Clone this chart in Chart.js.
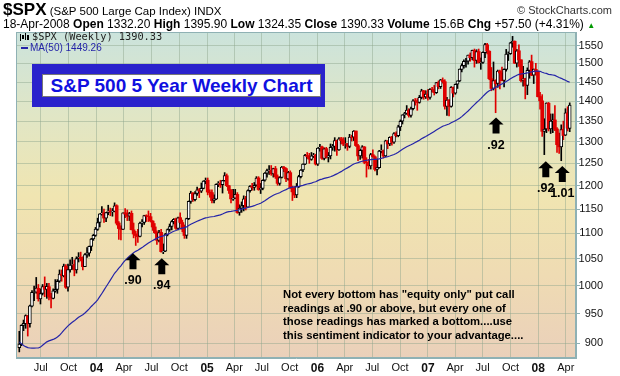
<!DOCTYPE html>
<html>
<head>
<meta charset="utf-8">
<script src="https://cdn.jsdelivr.net/npm/chart.js@4.4.1/dist/chart.umd.min.js"></script>
<style>
  body { margin: 0; background: #fff; }
  #wrap { position: relative; width: 620px; height: 376px; font-family: "Liberation Sans", Arial, sans-serif; color: #000; }
  #wrap canvas { position: absolute; left: 0; top: 0; }
  .abs { position: absolute; white-space: nowrap; }
  #sym { left: 3px; top: 0px; font-size: 11.5px; line-height: 20px; }
  #sym b { font-size: 17px; }
  #copy { right: 8px; top: 4px; font-size: 11px; color: #333; }
  #quote { left: 3px; top: 17px; font-size: 12px; line-height: 14px; }
  #quote .up { color: #090; font-size: 8px; }
  #leg1 { left: 32px; top: 30px; font-family: "DejaVu Sans Mono", monospace; font-size: 10.3px; line-height: 12px; color: #222; }
  #leg2 { left: 30px; top: 42px; font-size: 10px; line-height: 12px; color: #2424a8; }
  #titlebox { left: 32px; top: 64px; width: 293px; height: 43px; background: #2a22cc; }
  #titlebox div { position: absolute; left: 10px; top: 10px; width: 277px; height: 21px; background: #fff; border: 1px solid #777;
    color: #1010e0; font-weight: bold; font-size: 19px; line-height: 21px; text-align: center; }
  #note { left: 283px; top: 288px; font-weight: bold; font-size: 11.3px; line-height: 13.7px; }
</style>
</head>
<body>
<div id="wrap">
  <canvas id="c" width="620" height="376"></canvas>
  <div class="abs" id="sym"><b>$SPX</b> (S&amp;P 500 Large Cap Index) INDX</div>
  <div class="abs" id="copy">© StockCharts.com</div>
  <div class="abs" id="quote">18-Apr-2008 <b>Open</b> 1332.20 <b>High</b> 1395.90 <b>Low</b> 1324.35 <b>Close</b> 1390.33 <b>Volume</b> 15.6B <b>Chg</b> +57.50 (+4.31%) <span class="up">▲</span></div>
  <div class="abs" id="leg1">$SPX (Weekly) 1390.33</div>
  <div class="abs" id="leg2">MA(50) 1449.26</div>
  <div class="abs" id="titlebox"><div>S&amp;P 500 5 Year Weekly Chart</div></div>
  <div class="abs" id="note">Not every bottom has "equity only" put call<br>readings at .90 or above, but every one of<br>those readings has marked a bottom....use<br>this sentiment indicator to your advantage....</div>
</div>
<script>
// weekly bars, first week starts Monday 2003-04-21, last one ends 18-Apr-2008
const firstWeek = '2003-04-21';

const opens = [
  893,898,930,933,946,933,963,988,988,995,
  976,986,998,993,998,980,977,990,993,1008,
  1021,1018,1036,997,1029,1038,1039,1029,1051,1053,
  1050,1035,1058,1061,1074,1089,1096,1108,1122,1140,
  1142,1131,1143,1146,1144,1145,1157,1121,1110,1108,
  1142,1139,1135,1141,1107,1099,1096,1094,1121,1122,
  1136,1135,1134,1125,1113,1101,1086,1102,1064,1065,
  1098,1108,1114,1124,1129,1110,1132,1122,1108,1096,
  1130,1166,1184,1170,1183,1191,1188,1194,1210,1212,
  1186,1185,1168,1171,1203,1205,1202,1211,1222,1200,
  1190,1171,1173,1181,1143,1152,1157,1171,1154,1189,
  1199,1196,1201,1217,1192,1194,1212,1228,1234,1234,
  1226,1238,1220,1205,1218,1241,1238,1215,1229,1196,
  1187,1180,1198,1220,1235,1248,1268,1265,1259,1267,
  1269,1248,1285,1288,1261,1284,1264,1267,1287,1289,
  1303,1281,1307,1303,1295,1296,1289,1311,1311,1326,
  1291,1267,1280,1288,1252,1252,1244,1270,1265,1236,
  1240,1279,1279,1267,1302,1295,1311,1299,1320,1315,
  1336,1350,1366,1369,1377,1364,1381,1401,1401,1397,
  1410,1427,1411,1418,1410,1431,1430,1422,1448,1438,
  1455,1451,1387,1403,1387,1436,1421,1444,1453,1484,
  1494,1506,1506,1523,1516,1536,1508,1533,1503,1503,
  1530,1552,1534,1459,1433,1453,1446,1479,1474,1454,
  1484,1526,1527,1558,1562,1501,1535,1510,1454,1459,
  1441,1481,1505,1468,1484,1478,1412,1401,1325,1331,
  1395,1331,1350,1353,1331,1293,1288,1330,1316,1370,
  1332.20
];
const highs = [
  920,931,939,948,947,965,991,999,1015,1002,
  994,1002,1016,1004,1004,986,994,1011,1011,1029,
  1029,1040,1039,1040,1048,1053,1048,1054,1062,1063,
  1054,1060,1072,1075,1090,1098,1112,1131,1140,1155,
  1150,1143,1158,1152,1151,1163,1159,1124,1115,1142,
  1151,1148,1143,1146,1121,1104,1108,1123,1128,1137,
  1138,1146,1141,1126,1120,1105,1106,1108,1079,1100,
  1109,1119,1126,1130,1131,1133,1142,1127,1117,1131,
  1167,1188,1185,1187,1197,1194,1206,1211,1217,1217,
  1191,1191,1180,1204,1209,1212,1212,1229,1226,1201,
  1192,1192,1192,1185,1159,1165,1178,1177,1191,1200,
  1205,1207,1220,1220,1205,1213,1229,1237,1245,1245,
  1239,1243,1224,1220,1243,1243,1240,1232,1233,1199,
  1198,1205,1223,1236,1249,1271,1275,1273,1275,1273,
  1271,1286,1294,1290,1286,1287,1275,1295,1294,1310,
  1304,1310,1311,1310,1310,1296,1318,1316,1327,1326,
  1294,1283,1291,1289,1263,1259,1273,1281,1267,1260,
  1280,1293,1281,1304,1303,1312,1313,1322,1324,1340,
  1353,1366,1372,1389,1381,1385,1404,1407,1407,1415,
  1431,1428,1427,1430,1433,1436,1441,1449,1453,1457,
  1461,1456,1410,1404,1438,1437,1445,1453,1485,1499,
  1510,1514,1523,1529,1537,1540,1538,1540,1515,1532,
  1556,1556,1535,1489,1504,1456,1482,1482,1490,1485,
  1539,1532,1559,1576,1563,1539,1552,1510,1492,1460,
  1488,1508,1523,1485,1500,1479,1423,1417,1356,1396,
  1397,1368,1368,1389,1334,1321,1341,1350,1381,1386,
  1395.90
];
const lows = [
  886,896,921,925,912,927,962,973,986,972,
  967,983,980,977,974,960,976,988,986,1006,
  1008,1016,995,990,1025,1030,1018,1023,1044,1046,
  1029,1035,1053,1055,1066,1086,1094,1106,1113,1137,
  1122,1124,1138,1136,1135,1144,1117,1088,1087,1108,
  1132,1126,1126,1107,1091,1076,1082,1093,1113,1118,
  1124,1124,1123,1106,1100,1078,1083,1063,1060,1064,
  1095,1104,1107,1119,1108,1107,1120,1103,1090,1090,
  1128,1162,1166,1167,1179,1174,1185,1193,1204,1180,
  1175,1163,1163,1170,1198,1196,1184,1210,1198,1183,
  1163,1168,1172,1141,1137,1143,1146,1148,1154,1186,
  1190,1190,1199,1190,1183,1191,1210,1219,1225,1223,
  1219,1216,1201,1201,1217,1231,1209,1212,1194,1168,
  1174,1174,1196,1217,1231,1247,1261,1250,1257,1263,
  1246,1245,1278,1259,1258,1262,1253,1260,1280,1278,
  1268,1280,1295,1291,1285,1280,1286,1302,1303,1289,
  1256,1259,1262,1249,1219,1237,1237,1264,1233,1224,
  1239,1274,1262,1265,1284,1291,1292,1296,1312,1312,
  1327,1343,1358,1367,1360,1360,1378,1390,1377,1395,
  1406,1405,1407,1403,1405,1424,1416,1420,1432,1433,
  1447,1380,1364,1363,1385,1411,1418,1433,1451,1477,
  1487,1490,1498,1506,1510,1490,1500,1501,1484,1500,
  1516,1526,1456,1427,1429,1371,1436,1432,1453,1437,
  1479,1508,1525,1545,1500,1490,1492,1450,1439,1406,
  1417,1460,1467,1446,1468,1411,1380,1313,1270,1322,
  1326,1320,1322,1327,1275,1273,1256,1305,1315,1326,
  1324.35
];
const closes = [
  898.81,930.08,933.41,946.67,933.22,963.59,987.76,988.61,995.69,976.22,
  985.70,998.14,993.32,998.68,980.15,977.59,990.67,993.06,1008.01,1021.39,
  1018.63,1036.30,996.85,1029.85,1038.06,1039.32,1028.91,1050.71,1053.21,1050.35,
  1035.28,1058.20,1061.50,1074.14,1088.66,1095.89,1108.48,1121.86,1139.83,1141.55,
  1131.13,1142.76,1145.81,1144.11,1144.94,1156.86,1120.57,1109.78,1108.06,1141.81,
  1139.32,1134.61,1140.60,1107.30,1098.70,1095.70,1093.56,1120.68,1122.50,1136.47,
  1135.02,1134.43,1125.38,1112.81,1101.39,1086.20,1101.72,1063.97,1064.80,1098.35,
  1107.77,1113.63,1123.92,1128.55,1110.11,1131.50,1122.14,1108.20,1095.74,1130.20,
  1166.17,1184.17,1170.34,1182.65,1191.17,1188.00,1194.20,1210.13,1211.92,1186.19,
  1184.52,1167.87,1171.36,1203.03,1205.30,1201.59,1211.37,1222.12,1200.08,1189.65,
  1171.42,1172.92,1181.20,1142.62,1152.12,1156.85,1171.35,1154.05,1189.28,1198.78,
  1196.02,1200.93,1216.96,1191.57,1194.44,1211.86,1227.92,1233.68,1234.18,1226.42,
  1237.81,1219.71,1205.10,1218.02,1241.48,1237.91,1215.29,1228.81,1195.90,1186.57,
  1179.59,1198.41,1220.14,1234.72,1248.27,1268.25,1265.08,1259.37,1267.32,1268.66,
  1248.29,1285.45,1287.61,1261.49,1283.72,1264.03,1266.99,1287.24,1289.43,1302.95,
  1281.42,1307.25,1302.95,1294.83,1295.50,1289.12,1311.28,1310.61,1325.76,1291.24,
  1267.03,1280.16,1288.22,1252.30,1251.54,1244.50,1270.20,1265.48,1236.20,1240.29,
  1278.55,1279.36,1266.74,1302.30,1295.09,1311.01,1298.92,1319.66,1314.78,1335.85,
  1349.59,1365.62,1368.60,1377.34,1364.30,1380.90,1401.20,1400.95,1396.71,1409.84,
  1427.09,1410.76,1418.30,1409.71,1430.73,1430.50,1422.18,1448.39,1438.06,1455.54,
  1451.19,1387.17,1402.84,1386.95,1436.11,1420.86,1443.76,1452.85,1484.35,1494.07,
  1505.62,1505.85,1522.75,1515.73,1536.34,1507.67,1532.91,1502.56,1503.35,1530.44,
  1552.50,1534.10,1458.95,1433.06,1453.64,1445.94,1479.37,1473.99,1453.55,1484.25,
  1525.75,1526.75,1557.59,1561.80,1500.63,1535.28,1509.65,1453.70,1458.74,1440.70,
  1481.14,1504.66,1467.95,1484.46,1478.49,1411.63,1401.02,1325.19,1330.61,1395.42,
  1331.29,1349.99,1353.11,1330.63,1293.37,1288.14,1329.51,1315.22,1370.40,1332.83,
  1390.33
];
const ma50 = [
  902,899.5,896.5,894.5,893,892.3,892,892,892.3,892.3,
  893.8,896.8,899.6,902.4,904,905.2,906.4,908.1,910.6,913.3,
  917.2,921.4,925.3,929.2,932.3,935.1,937.7,940.8,943.7,946.1,
  948.1,951.2,954.7,958.3,962.6,966.4,970.0,974.4,980.0,985.7,
  991.7,997.9,1003.9,1010.0,1016.3,1022.8,1027.3,1032.2,1036.8,1042.3,
  1047.1,1051.2,1055.3,1058.5,1061.9,1064.5,1066.6,1069.3,1071.8,1075.0,
  1078.0,1080.7,1083.3,1085.6,1088.0,1090.2,1092.4,1093.8,1095.0,1096.5,
  1098.3,1099.9,1102.4,1104.4,1105.8,1107.7,1109.5,1110.7,1111.5,1113.1,
  1115.8,1118.3,1120.4,1122.6,1124.7,1126.5,1128.2,1130.0,1131.4,1132.3,
  1133.4,1133.9,1134.4,1135.6,1136.8,1137.7,1139.5,1141.7,1143.5,1144.5,
  1145.1,1145.9,1146.7,1147.4,1148.5,1149.7,1151.2,1151.9,1153.2,1154.5,
  1155.7,1157.0,1158.9,1160.5,1162.3,1164.8,1167.4,1170.8,1174.1,1176.7,
  1179.3,1181.4,1183.0,1184.8,1187.4,1189.6,1191.4,1193.8,1195.8,1197.0,
  1197.3,1197.5,1198.5,1199.6,1200.7,1202.3,1203.7,1204.7,1205.8,1207.5,
  1208.7,1211.1,1213.4,1214.6,1216.2,1217.4,1218.5,1219.8,1221.6,1223.9,
  1226.1,1228.7,1231.2,1234.2,1237.1,1239.7,1242.5,1245.7,1248.4,1250.3,
  1251.7,1253.3,1254.7,1255.9,1257.0,1257.7,1258.5,1259.2,1259.2,1259.5,
  1260.3,1261.5,1262.7,1264.4,1265.5,1266.9,1268.6,1270.4,1272.8,1275.8,
  1279.2,1282.6,1285.5,1288.4,1290.7,1293.0,1295.7,1298.5,1301.1,1303.9,
  1307.5,1310.0,1312.6,1315.6,1318.6,1321.9,1325.0,1328.2,1331.2,1334.3,
  1337.7,1339.3,1341.3,1343.1,1345.9,1348.5,1351.2,1354.0,1357.2,1361.3,
  1366.0,1370.6,1375.3,1380.5,1386.2,1391.5,1396.7,1401.5,1406.8,1412.6,
  1418.1,1423.2,1427.1,1429.7,1432.9,1435.6,1439.2,1442.2,1445.0,1448.0,
  1451.5,1454.7,1458.5,1462.2,1464.9,1468.0,1470.2,1471.3,1472.5,1473.1,
  1474.2,1476.1,1477.1,1478.6,1479.5,1479.1,1478.7,1476.2,1474.1,1472.9,
  1470.5,1469.7,1468.7,1467.6,1464.8,1462.1,1459.8,1457.1,1454.8,1451.6,
  1449.26
];

const tickDates = ['2003-07-01','2003-10-01','2004-01-01','2004-04-01','2004-07-01','2004-10-01',
  '2005-01-01','2005-04-01','2005-07-01','2005-10-01','2006-01-01','2006-04-01','2006-07-01',
  '2006-10-01','2007-01-01','2007-04-01','2007-07-01','2007-10-01','2008-01-01','2008-04-01'];
const tickLabels = ['Jul','Oct','04','Apr','Jul','Oct','05','Apr','Jul','Oct','06','Apr','Jul','Oct',
  '07','Apr','Jul','Oct','08','Apr'];
const yTicks = [900,950,1000,1050,1100,1150,1200,1250,1300,1350,1400,1450,1500,1550];

// put/call bottoms marked on the chart (week number, price at arrow tip)
const arrowWeek = [53.7, 67.3, 225.2, 248.7, 256.5];
const arrowValue = [1061, 1051, 1359, 1255, 1244];
const arrowText = ['.90', '.94', '.92', '.92', '1.01'];

const weekMs = 7 * 864e5;
const tickIdx = tickDates.map(function(d) { return (Date.parse(d) - Date.parse(firstWeek)) / weekMs; });

const red = '#e00000';
var colors = [], fills = [], borders = [];
closes.forEach(function(c, i) {
  var prev = i > 0 ? closes[i - 1] : opens[0];
  var col = c >= prev ? '#000000' : red;
  var hollow = c > opens[i];
  colors.push(col);
  fills.push(hollow ? '#ffffff' : col);
  borders.push(hollow ? 1 : 0);
});

const wicks = closes.map(function(c, i) { return {x: i, y: [lows[i], highs[i]]}; });
const bodies = closes.map(function(c, i) { return {x: i, y: [opens[i], c]}; });
const maLine = ma50.map(function(v, i) { return {x: i, y: v}; });

const backdrop = {
  id: 'backdrop',
  beforeDraw: function(chart) {
    const a = chart.chartArea, ctx = chart.ctx;
    const g = ctx.createLinearGradient(0, a.top, 0, a.bottom);
    g.addColorStop(0, '#cbe3dc');
    g.addColorStop(0.25, '#e0e6c6');
    g.addColorStop(0.5, '#f0e5b1');
    g.addColorStop(0.75, '#efdbb3');
    g.addColorStop(1, '#ead0ba');
    ctx.save();
    ctx.fillStyle = g;
    ctx.fillRect(a.left, a.top, a.right - a.left, a.bottom - a.top);
    ctx.restore();
  },
  afterDraw: function(chart) {
    const a = chart.chartArea, ctx = chart.ctx;
    const xs = chart.scales.x, ys = chart.scales.y;
    ctx.save();
    ctx.strokeStyle = '#8fb1b4';
    ctx.lineWidth = 1;
    ctx.strokeRect(a.left + 0.5, a.top + 0.5, a.right - a.left - 1, a.bottom - a.top - 1);
    // little candle icon of the legend
    ctx.fillStyle = '#000';
    ctx.fillRect(20, 34, 1, 7);
    ctx.fillRect(22, 35, 2, 4);
    ctx.fillRect(25, 33, 1, 7);
    ctx.fillRect(27, 35, 2, 5);
    ctx.fillStyle = '#2424a8';
    ctx.fillRect(21, 47, 7, 2);
    // arrows + readings
    ctx.fillStyle = '#000';
    ctx.font = 'bold 12.5px "Liberation Sans", Arial, sans-serif';
    ctx.textAlign = 'center';
    arrowWeek.forEach(function(w, i) {
      const px = xs.getPixelForValue(w), py = ys.getPixelForValue(arrowValue[i]);
      ctx.beginPath();
      ctx.moveTo(px, py);
      ctx.lineTo(px + 7.5, py + 7);
      ctx.lineTo(px + 3.5, py + 7);
      ctx.lineTo(px + 3.5, py + 16);
      ctx.lineTo(px - 3.5, py + 16);
      ctx.lineTo(px - 3.5, py + 7);
      ctx.lineTo(px - 7.5, py + 7);
      ctx.closePath();
      ctx.fill();
      ctx.fillText(arrowText[i], px, py + 31);
    });
    ctx.restore();
  }
};

const gridCol = 'rgba(140,165,140,0.45)';
new Chart(document.getElementById('c'), {
  type: 'bar',
  data: {
    datasets: [
      {
        type: 'line',
        data: maLine,
        borderColor: '#2424a8',
        borderWidth: 1.2,
        pointRadius: 0,
        order: 0
      },
      {
        data: bodies,
        backgroundColor: fills,
        borderColor: colors,
        borderWidth: borders,
        borderSkipped: false,
        barThickness: 3,
        grouped: false,
        order: 1
      },
      {
        data: wicks,
        backgroundColor: colors,
        barThickness: 1,
        grouped: false,
        order: 2
      }
    ]
  },
  options: {
    responsive: false,
    animation: false,
    devicePixelRatio: 1,
    layout: { padding: { left: 16, top: 32, right: 17, bottom: 0 } },
    plugins: {
      legend: { display: false },
      tooltip: { enabled: false }
    },
    scales: {
      x: {
        type: 'linear',
        offset: false,
        min: -1.56,
        max: 262.97,
        afterBuildTicks: function(scale) {
          scale.ticks = tickIdx.map(function(v) { return {value: v}; });
        },
        afterFit: function(scale) { scale.height = 18; },
        grid: { color: gridCol, drawTicks: false, offset: false },
        border: { color: '#8fb1b4' },
        ticks: {
          autoSkip: false,
          maxRotation: 0,
          padding: 3,
          color: '#111',
          font: function(ctx) {
            var lab = tickLabels[ctx.index] || '';
            return /^\d/.test(lab) ? {size: 12, weight: 'bold'} : {size: 11};
          },
          callback: function(v, i) { return tickLabels[i]; }
        }
      },
      y: {
        type: 'logarithmic',
        position: 'right',
        min: 876.2,
        max: 1588.6,
        afterBuildTicks: function(scale) {
          scale.ticks = yTicks.map(function(v) { return {value: v}; });
        },
        afterFit: function(scale) { scale.width = 27; },
        grid: { color: gridCol, tickColor: '#8fb1b4', tickLength: 4 },
        border: { color: '#8fb1b4' },
        ticks: {
          crossAlign: 'far',
          color: '#111',
          font: { size: 11 },
          callback: function(v) { return String(v); }
        }
      }
    }
  },
  plugins: [backdrop]
});
</script>
</body>
</html>
